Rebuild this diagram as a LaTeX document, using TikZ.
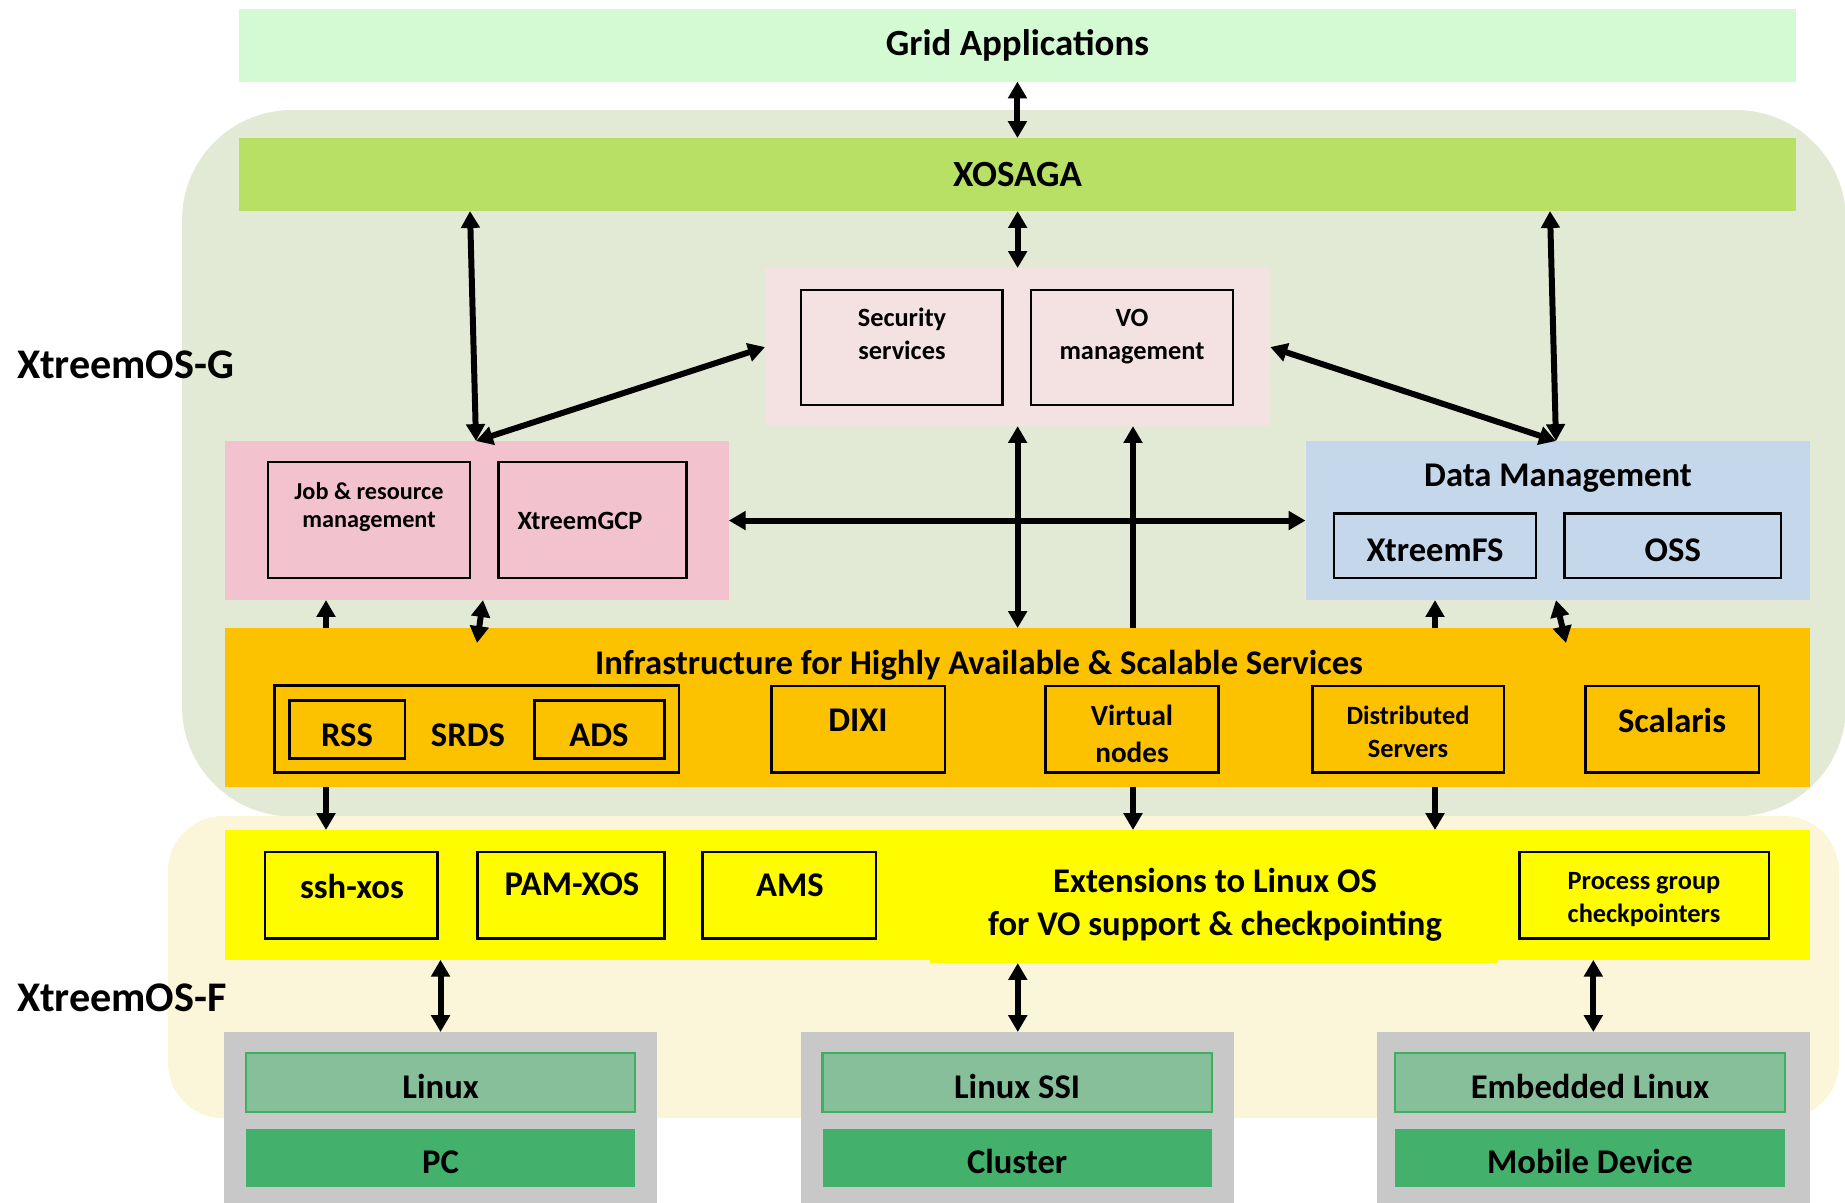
\documentclass[tikz,border=0pt]{standalone}
\usepackage{fontspec}
\setmainfont{Carlito}
\usetikzlibrary{arrows.meta}
\definecolor{gridc}{RGB}{212,250,212}
\definecolor{gbg}{RGB}{226,234,213}
\definecolor{fbg}{RGB}{251,246,218}
\definecolor{sagac}{RGB}{184,224,100}
\definecolor{secc}{RGB}{244,226,226}
\definecolor{jobc}{RGB}{242,194,207}
\definecolor{datac}{RGB}{197,216,235}
\definecolor{infrac}{RGB}{252,194,0}
\definecolor{extc}{RGB}{255,252,0}
\definecolor{hostc}{RGB}{200,200,200}
\definecolor{osc}{RGB}{136,191,155}
\definecolor{osl}{RGB}{60,176,96}
\definecolor{hwc}{RGB}{67,176,108}
\tikzset{
  layer/.style={inner sep=0pt, outer sep=0pt, anchor=north west},
  part/.style={layer, draw=black, line width=0.75pt},
  head/.style={inner sep=0pt, font=\bfseries\fontsize{10.5}{12}\selectfont},
  lbl/.style={inner sep=0pt, align=center, font=\bfseries\fontsize{9.85}{12.2}\selectfont},
  mid/.style={inner sep=0pt, align=center, font=\bfseries\fontsize{8.3}{10.4}\selectfont},
  small/.style={inner sep=0pt, align=center, font=\bfseries\fontsize{7.5}{9.2}\selectfont},
  tiny/.style={inner sep=0pt, align=center, font=\bfseries\fontsize{6.9}{8.1}\selectfont},
  low/.style={text height=0.9em, text depth=0pt},
  arr/.style={{Triangle[length=4.8pt,width=5.2pt]}-{Triangle[length=4.8pt,width=5.2pt]}, line width=1.7pt},
  uarr/.style={-{Triangle[length=4.8pt,width=5.2pt]}, line width=1.7pt},
}
\begin{document}
\begin{tikzpicture}[x=0.01cm, y=-0.01cm]
\clip (0,0) rectangle (1845,1202);
% the two layers
\node[layer, fill=gbg, rounded corners=1.1cm, minimum width=16.63cm, minimum height=7.06cm] (xosg) at (182,110) {};
\node[layer, fill=fbg, rounded corners=0.55cm, minimum width=16.70cm, minimum height=3.02cm] (xosf) at (168,816) {};
\node[head, anchor=west, font=\bfseries\fontsize{12}{14}\selectfont] (labg) at (17,365) {XtreemOS-G};
\node[head, anchor=west, font=\bfseries\fontsize{12}{14}\selectfont] (labf) at (17,998) {XtreemOS-F};

\node[layer, head, fill=gridc, minimum width=15.56cm, minimum height=0.725cm] (grid) at (239,9) {Grid Applications};
\node[layer, head, fill=sagac, minimum width=15.56cm, minimum height=0.73cm] (saga) at (239,138) {XOSAGA};

% security and VO
\node[layer, fill=secc, minimum width=5.05cm, minimum height=1.58cm] (sec) at (765,268) {};
\node[part, fill=secc, minimum width=2.015cm, minimum height=1.15cm] (secb) at (801,290) {};
\node[small] (sect) at (902,334) {Security\\services};
\node[part, fill=secc, minimum width=2.02cm, minimum height=1.15cm] (vob) at (1031,290) {};
\node[small] (vot) at (1132,336.5) {VO\\management};

% jobs
\node[layer, fill=jobc, minimum width=5.04cm, minimum height=1.59cm] (job) at (224.5,441) {};
\node[part, fill=jobc, minimum width=2.017cm, minimum height=1.16cm] (jobb) at (268,462) {};
\node[tiny] (jobt) at (369,507) {Job \& resource\\management};
\node[part, fill=jobc, minimum width=1.877cm, minimum height=1.16cm] (gcpb) at (498.5,462) {};
\node[small] (gcpt) at (580,521) {XtreemGCP};

% data
\node[layer, fill=datac, minimum width=5.04cm, minimum height=1.59cm] (data) at (1305.5,441) {};
\node[lbl] (datat) at (1558,478.5) {Data Management};
\node[part, lbl, low, fill=datac, minimum width=2.02cm, minimum height=0.645cm] (fs) at (1334,513.5) {XtreemFS};
\node[part, lbl, low, fill=datac, minimum width=2.165cm, minimum height=0.645cm] (oss) at (1564.5,513.5) {OSS};

% infrastructure
\node[layer, fill=infrac, minimum width=15.85cm, minimum height=1.59cm] (infra) at (224.5,628) {};
\node[lbl] (infrat) at (979,665.5) {Infrastructure for Highly Available \& Scalable Services};
\node[part, minimum width=4.04cm, minimum height=0.87cm] (srds) at (274.6,685.6) {};
\node[part, minimum width=1.156cm, minimum height=0.576cm] (rss) at (289.4,700.6) {};
\node[lbl] (rsst) at (347,735) {RSS};
\node[lbl] (srdst) at (468,735) {SRDS};
\node[part, minimum width=1.3cm, minimum height=0.576cm] (ads) at (534.4,700.6) {};
\node[lbl] (adst) at (599,735) {ADS};
\node[part, minimum width=1.733cm, minimum height=0.867cm] (dixi) at (771.6,686) {};
\node[lbl] (dixit) at (858,720) {DIXI};
\node[part, minimum width=1.732cm, minimum height=0.867cm] (vn) at (1045.5,686) {};
\node[mid] (vnt) at (1132,734) {Virtual\\nodes};
\node[part, minimum width=1.916cm, minimum height=0.867cm] (ds) at (1312.4,686) {};
\node[small] (dst) at (1408,732) {Distributed\\Servers};
\node[part, minimum width=1.732cm, minimum height=0.867cm] (scal) at (1585.8,686) {};
\node[lbl] (scalt) at (1672,720) {Scalaris};

% extensions
\node[layer, fill=extc, minimum width=15.85cm, minimum height=1.297cm] (ext) at (224.5,830) {};
\node[layer, fill=extc, minimum width=5.68cm, minimum height=1.2cm] (extm) at (930,843) {};
\node[lbl] (extt) at (1215,904.5) {Extensions to Linux OS\\for VO support \& checkpointing};
\node[part, minimum width=1.727cm, minimum height=0.868cm] (ssh) at (265,851.8) {};
\node[lbl] (ssht) at (352,886) {ssh-xos};
\node[part, minimum width=1.868cm, minimum height=0.868cm] (pam) at (477.5,851.8) {};
\node[lbl] (pamt) at (572,884) {PAM-XOS};
\node[part, minimum width=1.732cm, minimum height=0.868cm] (ams) at (702.8,851.8) {};
\node[lbl] (amst) at (790,885) {AMS};
\node[part, minimum width=2.496cm, minimum height=0.868cm] (pgc) at (1519.4,851.8) {};
\node[small] (pgct) at (1644,899.5) {Process group\\checkpointers};

% hosts
\node[layer, fill=hostc, minimum width=4.324cm, minimum height=1.72cm] (pc) at (224.2,1032) {};
\node[layer, lbl, low, fill=osc, draw=osl, line width=0.6pt, minimum width=3.89cm, minimum height=0.587cm] (pcos) at (246,1053) {Linux};
\node[layer, lbl, low, fill=hwc, minimum width=3.89cm, minimum height=0.576cm] (pchw) at (246,1129) {PC};
\node[layer, fill=hostc, minimum width=4.327cm, minimum height=1.72cm] (cl) at (801.3,1032) {};
\node[layer, lbl, low, fill=osc, draw=osl, line width=0.6pt, minimum width=3.89cm, minimum height=0.587cm] (clos) at (822.5,1053) {Linux SSI};
\node[layer, lbl, low, fill=hwc, minimum width=3.89cm, minimum height=0.576cm] (clhw) at (822.5,1129) {Cluster};
\node[layer, fill=hostc, minimum width=4.324cm, minimum height=1.72cm] (mob) at (1377,1032) {};
\node[layer, lbl, low, fill=osc, draw=osl, line width=0.6pt, minimum width=3.89cm, minimum height=0.587cm] (mobos) at (1395.4,1053) {Embedded Linux};
\node[layer, lbl, low, fill=hwc, minimum width=3.89cm, minimum height=0.576cm] (mobhw) at (1395.4,1129) {Mobile Device};

% connectors
\coordinate (jd) at (477,643);
\coordinate (dd) at (1566,643);
\draw[arr] (grid.south) -- (saga.north);
\draw[arr] (saga.south -| sec.north) -- (sec.north);
\draw[arr] (470,0 |- saga.south) -- (476,0 |- job.north);
\draw[arr] (476,0 |- job.north) -- (sec.west);
\draw[arr] (1550,0 |- saga.south) -- (1556,0 |- data.north);
\draw[arr] (sec.east) -- (1556,0 |- data.north);
\draw[arr] (job.east) -- (data.west);
\draw[arr] (sec.south) -- (sec.south |- infra.north);
\draw[uarr] (1133,0 |- infra.north) -- (1133,0 |- sec.south);
\draw[uarr] (326,0 |- infra.north) -- (326,0 |- job.south);
\draw[arr] (483,0 |- job.south) -- (jd);
\draw[uarr] (1435,0 |- infra.north) -- (1435,0 |- data.south);
\draw[arr] (1556,0 |- data.south) -- (dd);
\draw[uarr] (326,0 |- infra.south) -- (326,0 |- ext.north);
\draw[uarr] (1133,0 |- infra.south) -- (1133,0 |- ext.north);
\draw[uarr] (1435,0 |- infra.south) -- (1435,0 |- ext.north);
\draw[arr] (pc.north |- ext.south) -- (pc.north);
\draw[arr] (cl.north |- extm.south) -- (cl.north);
\draw[arr] (mob.north |- ext.south) -- (mob.north);
\end{tikzpicture}
\end{document}
